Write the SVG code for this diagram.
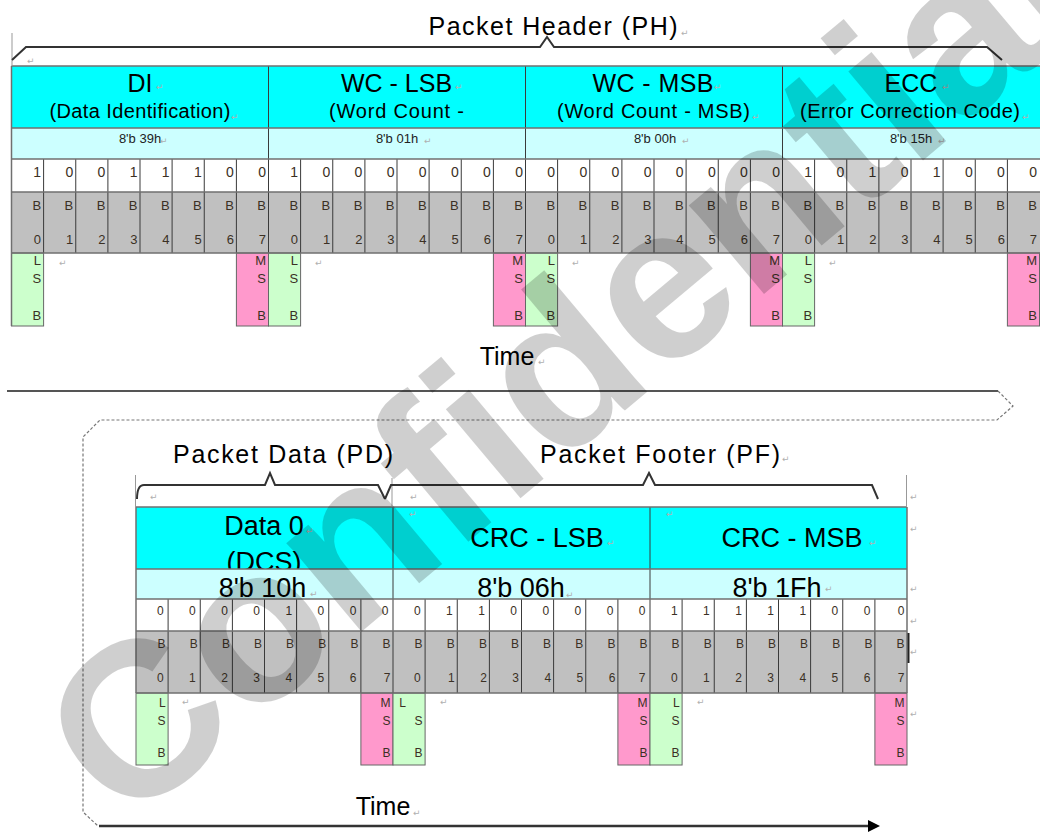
<svg xmlns="http://www.w3.org/2000/svg" width="1040" height="833" viewBox="0 0 1040 833">
<defs>
<style>
.t{font-family:"Liberation Sans",Arial,Helvetica,sans-serif}
.hdr{fill:#00ffff}
.val{fill:#ccffff}
.wht{fill:#ffffff}
.gry{fill:#c0c0c0}
.lsb{fill:#ccffcc;stroke:#666;stroke-width:1}
.msb{fill:#ff99cc;stroke:#666;stroke-width:1}
.grid{fill:none;stroke:#3a3a3a;stroke-width:1}
.rowl{fill:none;stroke:#707070;stroke-width:1.5}
.h1{font-size:25px;fill:#000;text-anchor:middle}
.h2{font-size:20px;fill:#000;text-anchor:middle}
.v1{font-size:13px;fill:#222;text-anchor:middle}
.H1{font-size:27px;fill:#000;text-anchor:middle}
.bv{font-size:14px;fill:#3b3024;text-anchor:end}
.bb{font-size:13px;fill:#3b3024;text-anchor:end}
.sv{font-size:12px;fill:#3b3024;text-anchor:end}
.lbl{font-size:25px;fill:#000;text-anchor:middle}
.pm{font-family:"DejaVu Sans",sans-serif;font-size:9px;fill:#b0b0b0}
.br{fill:none;stroke:#333;stroke-width:2}
.thin{fill:none;stroke:#999;stroke-width:1}
.wm{font-family:"Liberation Sans",Arial,sans-serif;font-weight:bold;font-size:220px;fill:#000;fill-opacity:0.19}
</style>
<marker id="arr" markerUnits="userSpaceOnUse" markerWidth="12" markerHeight="12" viewBox="0 0 12 12" refX="0" refY="6" orient="auto">
<path d="M0,0 L12,6 L0,12 z" fill="#000"/>
</marker>
<clipPath id="dcsclip"><rect x="136" y="507" width="257" height="62"/></clipPath>
</defs>
<rect x="0" y="0" width="1040" height="833" fill="#fff"/>

<!-- ===== Top: Packet Header ===== -->
<g id="byte-di">
<rect class="hdr" x="11.5" y="66" width="257" height="62"/>
<rect class="val" x="11.5" y="128" width="257" height="31"/>
<rect class="wht" x="11.5" y="159" width="257" height="33"/>
<rect class="gry" x="11.5" y="192" width="257" height="61"/>
<text class="t h1" x="140" y="92">DI</text>
<text class="t h2" x="140" y="118" textLength="181" lengthAdjust="spacing">(Data Identification)</text>
<text class="t v1" x="140" y="143">8'b 39h</text>
<text class="t bv" x="41.1 73.25 105.4 137.5 169.6 201.75 233.9 266" y="177">10011100</text>
<text class="t bb" x="41.1 73.25 105.4 137.5 169.6 201.75 233.9 266" y="210">BBBBBBBB</text>
<text class="t bb" x="41.1 73.25 105.4 137.5 169.6 201.75 233.9 266" y="244">01234567</text>
<rect class="lsb" x="11.5" y="253" width="32.1" height="73"/>
<rect class="msb" x="236.4" y="253" width="32.1" height="73"/>
<text class="t bb"><tspan x="41.1" y="265">L</tspan><tspan x="41.1" y="283">S</tspan><tspan x="41.1" y="320">B</tspan></text>
<text class="t bb"><tspan x="266" y="265">M</tspan><tspan x="266" y="283">S</tspan><tspan x="266" y="320">B</tspan></text>
</g>

<g id="byte-wc-lsb">
<rect class="hdr" x="268.5" y="66" width="257" height="62"/>
<rect class="val" x="268.5" y="128" width="257" height="31"/>
<rect class="wht" x="268.5" y="159" width="257" height="33"/>
<rect class="gry" x="268.5" y="192" width="257" height="61"/>
<text class="t h1" x="396.5" y="92">WC - LSB</text>
<text class="t h2" x="396.5" y="118" textLength="135" lengthAdjust="spacing">(Word Count -</text>
<text class="t v1" x="397" y="143">8'b 01h</text>
<text class="t bv" x="298.1 330.25 362.4 394.5 426.6 458.75 490.9 523" y="177">10000000</text>
<text class="t bb" x="298.1 330.25 362.4 394.5 426.6 458.75 490.9 523" y="210">BBBBBBBB</text>
<text class="t bb" x="298.1 330.25 362.4 394.5 426.6 458.75 490.9 523" y="244">01234567</text>
<rect class="lsb" x="268.5" y="253" width="32.1" height="73"/>
<rect class="msb" x="493.4" y="253" width="32.1" height="73"/>
<text class="t bb"><tspan x="298.1" y="265">L</tspan><tspan x="298.1" y="283">S</tspan><tspan x="298.1" y="320">B</tspan></text>
<text class="t bb"><tspan x="523" y="265">M</tspan><tspan x="523" y="283">S</tspan><tspan x="523" y="320">B</tspan></text>
</g>

<g id="byte-wc-msb">
<rect class="hdr" x="525.5" y="66" width="257" height="62"/>
<rect class="val" x="525.5" y="128" width="257" height="31"/>
<rect class="wht" x="525.5" y="159" width="257" height="33"/>
<rect class="gry" x="525.5" y="192" width="257" height="61"/>
<text class="t h1" x="653" y="92" textLength="121" lengthAdjust="spacing">WC - MSB</text>
<text class="t h2" x="653.5" y="118" textLength="193" lengthAdjust="spacing">(Word Count - MSB)</text>
<text class="t v1" x="655" y="143">8'b 00h</text>
<text class="t bv" x="555.1 587.25 619.4 651.5 683.6 715.75 747.9 780" y="177">00000000</text>
<text class="t bb" x="555.1 587.25 619.4 651.5 683.6 715.75 747.9 780" y="210">BBBBBBBB</text>
<text class="t bb" x="555.1 587.25 619.4 651.5 683.6 715.75 747.9 780" y="244">01234567</text>
<rect class="lsb" x="525.5" y="253" width="32.1" height="73"/>
<rect class="msb" x="750.4" y="253" width="32.1" height="73"/>
<text class="t bb"><tspan x="555.1" y="265">L</tspan><tspan x="555.1" y="283">S</tspan><tspan x="555.1" y="320">B</tspan></text>
<text class="t bb"><tspan x="780" y="265">M</tspan><tspan x="780" y="283">S</tspan><tspan x="780" y="320">B</tspan></text>
</g>

<g id="byte-ecc">
<rect class="hdr" x="782.5" y="66" width="257.5" height="62"/>
<rect class="val" x="782.5" y="128" width="257.5" height="31"/>
<rect class="wht" x="782.5" y="159" width="257.5" height="33"/>
<rect class="gry" x="782.5" y="192" width="257.5" height="61"/>
<text class="t h1" x="911" y="92">ECC</text>
<text class="t h2" x="910" y="118" textLength="220" lengthAdjust="spacing">(Error Correction Code)</text>
<text class="t v1" x="911" y="143">8'b 15h</text>
<text class="t bv" x="812.1 844.25 876.4 908.5 940.6 972.75 1004.9 1037" y="177">10101000</text>
<text class="t bb" x="812.1 844.25 876.4 908.5 940.6 972.75 1004.9 1037" y="210">BBBBBBBB</text>
<text class="t bb" x="812.1 844.25 876.4 908.5 940.6 972.75 1004.9 1037" y="244">01234567</text>
<rect class="lsb" x="782.5" y="253" width="32.1" height="73"/>
<rect class="msb" x="1007.4" y="253" width="32.1" height="73"/>
<text class="t bb"><tspan x="812.1" y="265">L</tspan><tspan x="812.1" y="283">S</tspan><tspan x="812.1" y="320">B</tspan></text>
<text class="t bb"><tspan x="1037" y="265">M</tspan><tspan x="1037" y="283">S</tspan><tspan x="1037" y="320">B</tspan></text>
</g>

<g id="grid-top">
<path class="grid" d="M43.6 159V253M75.75 159V253M107.9 159V253M140 159V253M172.1 159V253M204.25 159V253M236.4 159V253M300.6 159V253M332.75 159V253M364.9 159V253M397 159V253M429.1 159V253M461.25 159V253M493.4 159V253M557.6 159V253M589.75 159V253M621.9 159V253M654 159V253M686.1 159V253M718.25 159V253M750.4 159V253M814.6 159V253M846.75 159V253M878.9 159V253M911 159V253M943.1 159V253M975.25 159V253M1007.4 159V253M268.5 66V253M525.5 66V253M782.5 66V253"/>
<path class="rowl" d="M11.5 66H1040M11.5 128H1040M11.5 159H1040M11.5 192H1040M11.5 253H1040M11.5 66V326"/>
</g>

<!-- ===== Bottom: Packet Data + Footer ===== -->
<g id="byte-data0">
<rect class="hdr" x="136" y="507" width="257" height="62"/>
<text class="t H1" x="264" y="535">Data 0</text>
<text class="t H1" x="264" y="571" clip-path="url(#dcsclip)">(DCS)</text>
<rect class="val" x="136" y="569" width="257" height="30"/>
<text class="t H1" x="262.5" y="597">8'b 10h</text>
<rect class="wht" x="136" y="599" width="257" height="32"/>
<rect class="gry" x="136" y="631" width="257" height="62"/>
<text class="t sv" x="163.6 195.75 227.9 260 292.1 324.25 356.4 388.5" y="615">00001000</text>
<text class="t sv" x="165.6 197.75 229.9 262 294.1 326.25 358.4 390.5" y="648">BBBBBBBB</text>
<text class="t sv" x="163.6 195.75 227.9 260 292.1 324.25 356.4 390.5" y="682">01234567</text>
<rect class="lsb" x="136" y="693" width="32.1" height="72"/>
<rect class="msb" x="360.9" y="693" width="32.1" height="72"/>
<text class="t sv"><tspan x="165.6" y="707">L</tspan><tspan x="165.6" y="725">S</tspan><tspan x="165.6" y="757">B</tspan></text>
<text class="t sv"><tspan x="390.5" y="707">M</tspan><tspan x="390.5" y="725">S</tspan><tspan x="390.5" y="757">B</tspan></text>
</g>

<g id="byte-crc-lsb">
<rect class="hdr" x="393" y="507" width="257" height="62"/>
<text class="t H1" x="537" y="547">CRC - LSB</text>
<rect class="val" x="393" y="569" width="257" height="30"/>
<text class="t H1" x="521" y="597">8'b 06h</text>
<rect class="wht" x="393" y="599" width="257" height="32"/>
<rect class="gry" x="393" y="631" width="257" height="62"/>
<text class="t sv" x="420.6 452.75 484.9 517 549.1 581.25 613.4 645.5" y="615">01100000</text>
<text class="t sv" x="422.6 454.75 486.9 519 551.1 583.25 615.4 647.5" y="648">BBBBBBBB</text>
<text class="t sv" x="420.6 454.75 486.9 519 551.1 583.25 615.4 645.5" y="682">01234567</text>
<rect class="lsb" x="393" y="693" width="32.1" height="72"/>
<rect class="msb" x="617.9" y="693" width="32.1" height="72"/>
<text class="t sv"><tspan x="406" y="707">L</tspan><tspan x="422.6" y="725">S</tspan><tspan x="422.6" y="757">B</tspan></text>
<text class="t sv"><tspan x="647.5" y="707">M</tspan><tspan x="647.5" y="725">S</tspan><tspan x="647.5" y="757">B</tspan></text>
</g>

<g id="byte-crc-msb">
<rect class="hdr" x="650" y="507" width="257" height="62"/>
<text class="t H1" x="792" y="547">CRC - MSB</text>
<rect class="val" x="650" y="569" width="257" height="30"/>
<text class="t H1" x="777" y="597">8'b 1Fh</text>
<rect class="wht" x="650" y="599" width="257" height="32"/>
<rect class="gry" x="650" y="631" width="257" height="62"/>
<text class="t sv" x="677.6 709.75 741.9 774 806.1 838.25 870.4 904.5" y="615">11111000</text>
<text class="t sv" x="679.6 711.75 743.9 776 808.1 840.25 872.4 904.5" y="648">BBBBBBBB</text>
<text class="t sv" x="677.6 709.75 741.9 774 806.1 838.25 870.4 904.5" y="682">01234567</text>
<rect class="lsb" x="650" y="693" width="32.1" height="72"/>
<rect class="msb" x="874.9" y="693" width="32.1" height="72"/>
<text class="t sv"><tspan x="679.6" y="707">L</tspan><tspan x="679.6" y="725">S</tspan><tspan x="679.6" y="757">B</tspan></text>
<text class="t sv"><tspan x="904.5" y="707">M</tspan><tspan x="904.5" y="725">S</tspan><tspan x="904.5" y="757">B</tspan></text>
</g>

<g id="grid-bottom">
<path class="grid" d="M168.1 599V693M200.25 599V693M232.4 599V693M264.5 599V693M296.6 599V693M328.75 599V693M360.9 599V693M425.1 599V693M457.25 599V693M489.4 599V693M521.5 599V693M553.6 599V693M585.75 599V693M617.9 599V693M682.1 599V693M714.25 599V693M746.4 599V693M778.5 599V693M810.6 599V693M842.75 599V693M874.9 599V693M393 507V693M650 507V693"/>
<path class="rowl" d="M136 507H907M136 569H907M136 599H907M136 631H907M136 693H907M136 507V693M907 507V693"/>
<path d="M908.5 633V663" stroke="#222" stroke-width="2"/>
</g>

<!-- ===== Labels ===== -->
<g id="labels">
<text class="t lbl" x="553" y="35" font-size="26" textLength="249" lengthAdjust="spacing">Packet Header (PH)</text>
<text class="t lbl" x="507" y="365">Time</text>
<text class="t lbl" x="283" y="463" textLength="220" lengthAdjust="spacing">Packet Data (PD)</text>
<text class="t lbl" x="660" y="463" textLength="240" lengthAdjust="spacing">Packet Footer (PF)</text>
<text class="t lbl" x="383" y="815">Time</text>
</g>

<!-- ===== Connectors: braces, separator, continuation, time arrow ===== -->
<g id="connectors">
<path class="thin" d="M12 33V66"/>
<path class="br" d="M12 60L26 47H540L547 37L554 47H987L1002 60"/>
<path class="thin" d="M135.5 475V507M392 478V507M906.5 475V507"/>
<path class="br" d="M137 499Q137 485 144 485H265L270 473L275 485H378L385 499"/>
<path class="br" d="M385 499L391 485H643L649 473L655 485H872L878 499"/>
<path d="M7 391H998" stroke="#555" stroke-width="2" fill="none"/>
<path d="M998 391L1013 406L997 420H100L83 437V812L98 826" fill="none" stroke="#777" stroke-width="1.2" stroke-dasharray="3 2"/>
<path d="M99 826H868" stroke="#333" stroke-width="2.5" fill="none" marker-end="url(#arr)"/>
</g>

<!-- ===== paragraph marks ===== -->
<g id="marks" class="pm">
<text x="27" y="64">↵</text><text x="156" y="90">↵</text><text x="231" y="120">↵</text><text x="160" y="144">↵</text>
<text x="455" y="90">↵</text><text x="424" y="144">↵</text><text x="714" y="90">↵</text><text x="752" y="120">↵</text><text x="682" y="144">↵</text>
<text x="942" y="90">↵</text><text x="1022" y="120">↵</text><text x="938" y="144">↵</text><text x="681" y="36">↵</text>
<text x="59" y="266">↵</text><text x="315" y="266">↵</text><text x="572" y="266">↵</text><text x="829" y="266">↵</text>
<text x="538" y="365">↵</text>
<text x="150" y="500">↵</text><text x="410" y="500">↵</text><text x="910" y="500">↵</text><text x="782" y="462">↵</text>
<text x="306" y="534">↵</text><text x="310" y="597">↵</text>
<text x="409" y="517">↵</text><text x="666" y="517">↵</text>
<text x="607" y="546">↵</text><text x="566" y="598">↵</text><text x="869" y="546">↵</text><text x="825" y="592">↵</text>
<text x="910" y="532">↵</text><text x="910" y="592">↵</text><text x="910" y="624">↵</text><text x="910" y="655">↵</text><text x="910" y="717">↵</text>
<text x="182" y="705">↵</text><text x="440" y="705">↵</text><text x="697" y="705">↵</text>
<text x="413" y="816">↵</text>
</g>

<!-- ===== watermark ===== -->
<text class="wm" transform="translate(125 830) rotate(-40)">Confidential</text>
</svg>
